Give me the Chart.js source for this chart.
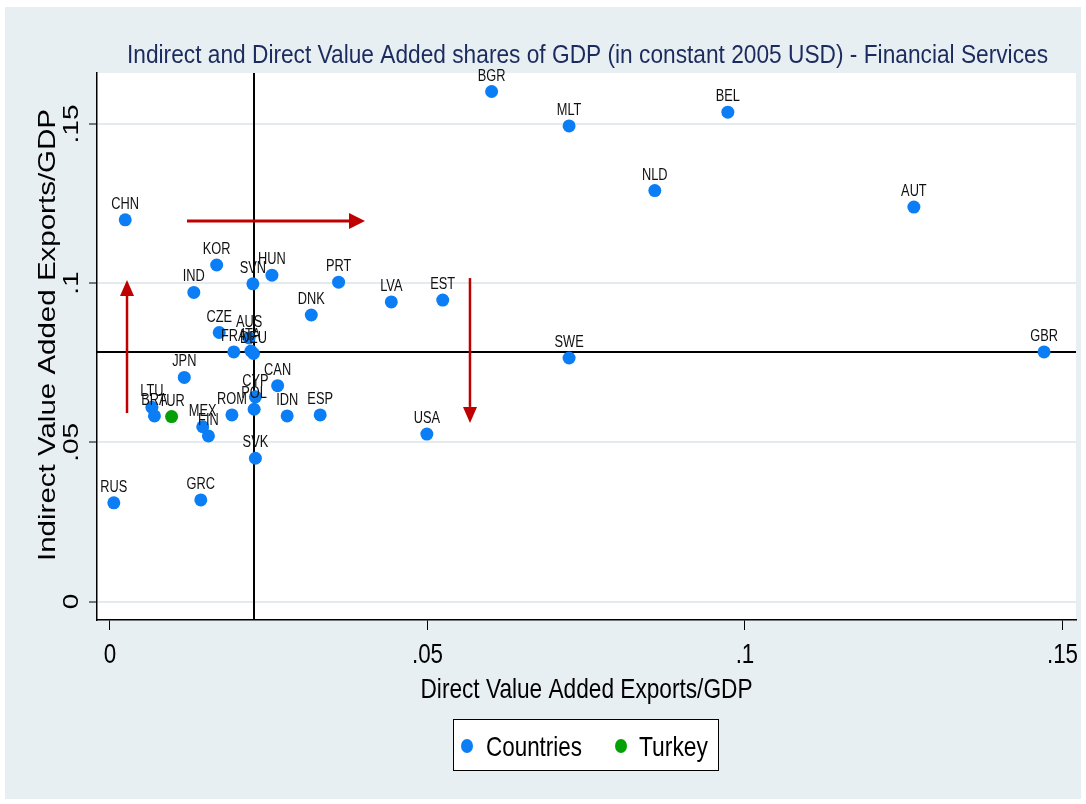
<!DOCTYPE html>
<html><head><meta charset="utf-8">
<script src="https://cdn.jsdelivr.net/npm/chart.js@4.4.0/dist/chart.umd.min.js"></script>
<style>html,body{margin:0;padding:0;background:#fff;}canvas{display:block;}</style>
</head><body>
<canvas id="c" width="1086" height="804"></canvas>
<script>
// ---- data ----
const countryCodes = ['BGR','MLT','BEL','NLD','AUT','CHN','KOR','HUN','SVN','IND','PRT','LVA','EST','DNK','CZE','AUS','FRA','ITA','DEU','GBR','SWE','JPN','CAN','CYP','POL','ROM','IDN','ESP','LTU','BRA','TUR','MEX','FIN','USA','SVK','RUS','GRC'];
const directVA = [0.0601,0.0723,0.0973,0.0858,0.1266,0.0024,0.0168,0.0255,0.0225,0.0132,0.0360,0.0443,0.0524,0.0317,0.0172,0.0219,0.0195,0.0222,0.0226,0.1471,0.0723,0.0117,0.0264,0.0229,0.0227,0.0192,0.0279,0.0331,0.0066,0.0070,0.0097,0.0146,0.0155,0.0499,0.0229,0.0006,0.0143];
const indirectVA = [0.1602,0.1494,0.1537,0.1291,0.1239,0.1199,0.1057,0.1025,0.0998,0.0971,0.1003,0.0941,0.0947,0.0900,0.0845,0.0828,0.0784,0.0787,0.0779,0.0784,0.0765,0.0704,0.0678,0.0643,0.0604,0.0586,0.0583,0.0586,0.0610,0.0583,0.0581,0.0549,0.0520,0.0526,0.0450,0.0310,0.0319];
const highlightCode = 'TUR';
const seriesNames = ['Countries','Turkey'];
const xTickValues = [0, 0.05, 0.1, 0.15];
const xTickLabels = ['0', '.05', '.1', '.15'];
const yTickValues = [0, 0.05, 0.1, 0.15];
const yTickLabels = ['0', '.05', '.1', '.15'];
const refLineX = 0.02268;
const refLineY = 0.07839;
const arrowStartX = [0.00268, 0.01213, 0.05669];
const arrowStartY = [0.0592, 0.1195, 0.1016];
const arrowEndX   = [0.00268, 0.04016, 0.05669];
const arrowEndY   = [0.1010, 0.1195, 0.0561];
const titleText = 'Indirect and Direct Value Added shares of GDP (in constant 2005 USD) - Financial Services';
const xTitle = 'Direct Value Added Exports/GDP';
const yTitle = 'Indirect Value Added Exports/GDP';

// ---- styles ----
const FONT = '"Liberation Sans", Arial, sans-serif';
const SX = 0.8;
const BLUE = '#0b7df5';
const GREEN = '#05a005';
const BG = '#e8eff2';
const GRID = '#e3ebee';
const RED = '#c00000';

function hText(ctx, text, x, y, size, color, align, targetW) {
  ctx.save();
  ctx.font = size + 'px ' + FONT;
  ctx.fillStyle = color;
  ctx.textBaseline = 'alphabetic';
  const w = ctx.measureText(text).width;
  const s = targetW ? targetW / w : SX;
  ctx.translate(x, y);
  ctx.scale(s, 1);
  ctx.textAlign = align || 'center';
  ctx.fillText(text, 0, 0);
  ctx.restore();
}
function vText(ctx, text, x, y, size, color, targetL) {
  ctx.save();
  ctx.font = size + 'px ' + FONT;
  ctx.fillStyle = color;
  ctx.textBaseline = 'alphabetic';
  ctx.textAlign = 'center';
  const w = ctx.measureText(text).width;
  const s = targetL ? targetL / w : 1;
  ctx.translate(x, y);
  ctx.rotate(-Math.PI / 2);
  ctx.scale(s, SX);
  ctx.fillText(text, 0, 0);
  ctx.restore();
}

const points = countryCodes.map((c, i) => ({ x: directVA[i], y: indirectVA[i], code: c }));
const mainPts = points.filter(p => p.code !== highlightCode);
const hiPts = points.filter(p => p.code === highlightCode);

const decorPlugin = {
  id: 'decor',
  beforeDraw(chart) {
    const ctx = chart.ctx, a = chart.chartArea;
    ctx.save();
    ctx.fillStyle = '#ffffff';
    ctx.fillRect(0, 0, chart.width, chart.height);
    ctx.fillStyle = BG;
    ctx.fillRect(5, 7, chart.width - 10, chart.height - 12);
    ctx.fillStyle = '#ffffff';
    ctx.fillRect(a.left, a.top, a.right - a.left, a.bottom - a.top);
    ctx.restore();
  },
  beforeDatasetsDraw(chart) {
    const ctx = chart.ctx, a = chart.chartArea;
    const xs = chart.scales.x, ys = chart.scales.y;
    ctx.save();
    ctx.strokeStyle = '#000';
    ctx.lineWidth = 2;
    const rx = Math.round(xs.getPixelForValue(refLineX));
    ctx.beginPath(); ctx.moveTo(rx, a.top); ctx.lineTo(rx, a.bottom); ctx.stroke();
    const ry = Math.round(ys.getPixelForValue(refLineY));
    ctx.beginPath(); ctx.moveTo(a.left, ry); ctx.lineTo(a.right, ry); ctx.stroke();
    ctx.strokeStyle = RED; ctx.fillStyle = RED;
    for (let i = 0; i < arrowStartX.length; i++) {
      const x0 = xs.getPixelForValue(arrowStartX[i]), y0 = ys.getPixelForValue(arrowStartY[i]);
      const x1 = xs.getPixelForValue(arrowEndX[i]), y1 = ys.getPixelForValue(arrowEndY[i]);
      const ang = Math.atan2(y1 - y0, x1 - x0);
      const hl = 16, hw = Math.abs(Math.cos(ang)) > 0.5 ? 8 : 7;
      const bx = x1 - hl * Math.cos(ang), by = y1 - hl * Math.sin(ang);
      ctx.lineWidth = Math.abs(Math.cos(ang)) > 0.5 ? 3 : 2.5;
      ctx.beginPath(); ctx.moveTo(x0, y0); ctx.lineTo(bx, by); ctx.stroke();
      ctx.beginPath();
      ctx.moveTo(x1, y1);
      ctx.lineTo(bx + hw * Math.sin(ang), by - hw * Math.cos(ang));
      ctx.lineTo(bx - hw * Math.sin(ang), by + hw * Math.cos(ang));
      ctx.closePath(); ctx.fill();
    }
    ctx.restore();
  },
  afterDatasetsDraw(chart) {
    const ctx = chart.ctx;
    const xs = chart.scales.x, ys = chart.scales.y;
    chart.data.datasets.forEach(ds => {
      ds.data.forEach(p => {
        hText(ctx, p.code, xs.getPixelForValue(p.x), ys.getPixelForValue(p.y) - 11, 16, '#111', 'center');
      });
    });
  },
  afterDraw(chart) {
    const ctx = chart.ctx, a = chart.chartArea;
    const xs = chart.scales.x, ys = chart.scales.y;
    hText(ctx, titleText, (a.left + a.right) / 2 + 1, 63, 26, '#1c2b5e', 'center', 921);
    xTickValues.forEach((v, i) => hText(ctx, xTickLabels[i], xs.getPixelForValue(v), 663, 28, '#000', 'center'));
    yTickValues.forEach((v, i) => vText(ctx, yTickLabels[i], 78, ys.getPixelForValue(v), 28, '#000'));
    hText(ctx, xTitle, (a.left + a.right) / 2, 698, 28, '#000', 'center', 332);
    vText(ctx, yTitle, 55, 335, 29, '#000', 452);
    ctx.save();
    ctx.fillStyle = '#fff';
    ctx.fillRect(453, 719, 266, 52);
    ctx.strokeStyle = '#000'; ctx.lineWidth = 1;
    ctx.strokeRect(453.5, 719.5, 265, 51);
    const ds = chart.data.datasets;
    const items = [{ dx: 467, tx: 486, tw: 96 }, { dx: 621, tx: 639, tw: 69 }];
    items.forEach((it, i) => {
      ctx.fillStyle = ds[i].backgroundColor;
      ctx.beginPath(); ctx.ellipse(it.dx, 746, 6, 7, 0, 0, Math.PI * 2); ctx.fill();
      hText(ctx, ds[i].label, it.tx, 756, 28, '#000', 'left', it.tw);
    });
    ctx.restore();
  }
};

new Chart(document.getElementById('c'), {
  type: 'scatter',
  data: {
    datasets: [
      { label: seriesNames[0], data: mainPts, backgroundColor: BLUE, borderColor: BLUE, pointRadius: 6.5, borderWidth: 0 },
      { label: seriesNames[1], data: hiPts, backgroundColor: GREEN, borderColor: GREEN, pointRadius: 6.5, borderWidth: 0 }
    ]
  },
  options: {
    responsive: false,
    animation: false,
    devicePixelRatio: 1,
    layout: { padding: { left: 0, top: 73, right: 10, bottom: 0 } },
    plugins: { legend: { display: false }, title: { display: false }, tooltip: { enabled: false } },
    scales: {
      x: {
        type: 'linear', position: 'bottom', min: -0.002047, max: 0.15213,
        afterBuildTicks: s => { s.ticks = xTickValues.map(v => ({ value: v })); },
        afterFit: s => { s.height = 184; },
        ticks: { display: false },
        grid: { drawOnChartArea: false, drawTicks: true, tickLength: 10, tickColor: '#000', tickWidth: 1 },
        border: { display: true, color: '#000', width: 1.5 }
      },
      y: {
        type: 'linear', position: 'left', min: -0.00581, max: 0.16602,
        afterBuildTicks: s => { s.ticks = yTickValues.map(v => ({ value: v })); },
        afterFit: s => { s.width = 97; },
        ticks: { display: false },
        grid: { drawOnChartArea: true, color: GRID, lineWidth: 2, drawTicks: true, tickLength: 8, tickColor: '#000', tickWidth: 1 },
        border: { display: true, color: '#000', width: 1.5 }
      }
    }
  },
  plugins: [decorPlugin]
});
</script>
</body></html>
